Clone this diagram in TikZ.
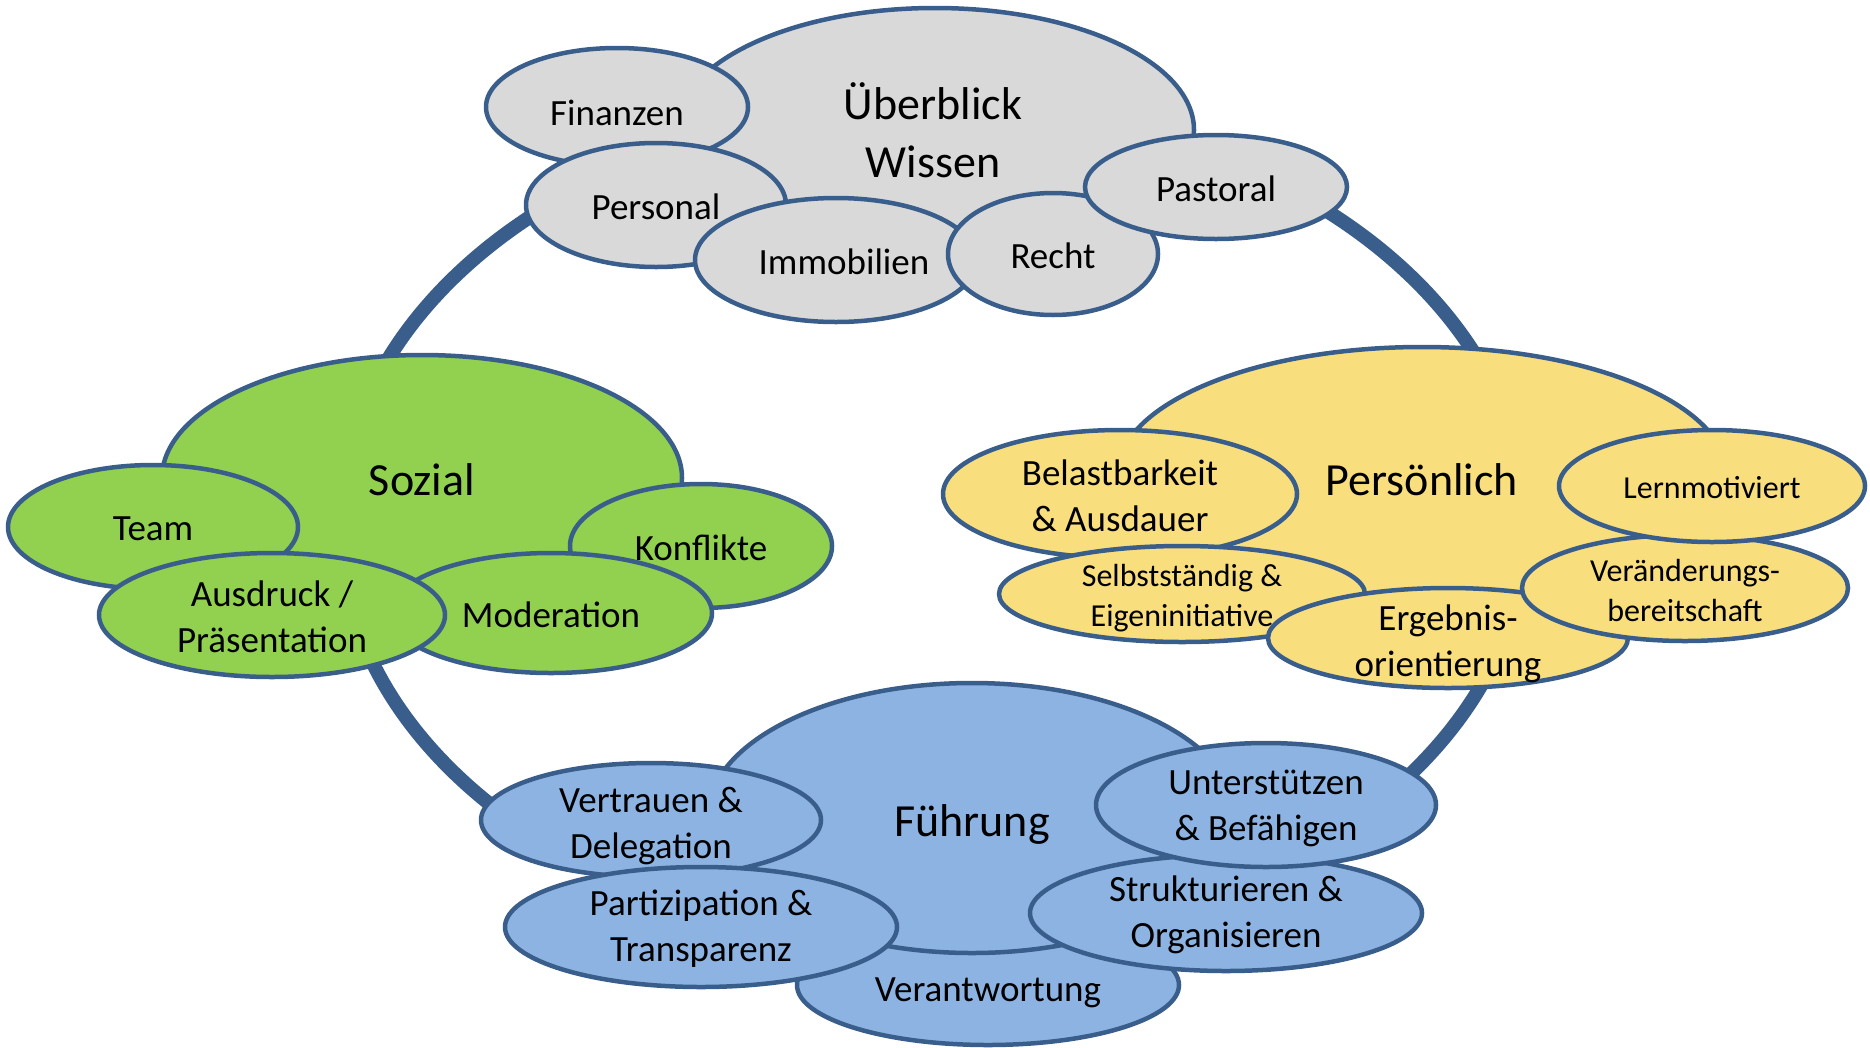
\documentclass[tikz,border=0pt]{standalone}
\usepackage{fontspec}
\setmainfont{Carlito}
\usepackage{tikz}
\usetikzlibrary{shapes.geometric}
\definecolor{rimblue}{HTML}{3A5E8C}
\definecolor{wissengray}{HTML}{D9D9D9}
\definecolor{sozialgreen}{HTML}{92D050}
\definecolor{persgelb}{HTML}{F9DE7E}
\definecolor{fuehrblau}{HTML}{8DB3E2}
\newcommand{\bigtxt}{\fontsize{46}{58}\selectfont}
\newcommand{\midtxt}{\fontsize{37}{46}\selectfont}
\newcommand{\smalltxt}{\fontsize{32}{40}\selectfont}

\begin{document}
\begin{tikzpicture}[x=1pt,y=-1pt,
    ball/.style 2 args={ellipse,draw=rimblue,line width=4.5pt,inner sep=0pt,
        minimum width={2*#1pt},minimum height={2*#2pt}},
    txt/.style={align=center,inner sep=0pt,font=\midtxt,yshift=-2pt},
    head/.style={txt,font=\bigtxt},
    small/.style={txt,font=\smalltxt}]
    \useasboundingbox (0,0) rectangle (1870,1047);
    % ring behind everything
    \draw[rimblue,line width=14pt] (933,525) ellipse [x radius=593,y radius=420];

    % Ueberblick Wissen
    \node[ball={259}{122},fill=wissengray] (ueberblick) at (935,130) {};
    \node[ball={131}{59},fill=wissengray] (finanzen) at (617,107) {};
    \node[ball={130}{62},fill=wissengray] (personal) at (656,205) {};
    \node[ball={141}{62},fill=wissengray] (immobilien) at (836,260) {};
    \node[ball={105}{61},fill=wissengray] (recht) at (1053,254) {};
    \node[ball={131}{52},fill=wissengray] (pastoral) at (1216,187) {};

    % Sozial
    \node[ball={260}{123},fill=sozialgreen] (sozial) at (422,478) {};
    \node[ball={145}{62},fill=sozialgreen] (team) at (153,527) {};
    \node[ball={131}{62},fill=sozialgreen] (konflikte) at (701,546) {};
    \node[ball={161}{60},fill=sozialgreen] (moderation) at (551,613) {};
    \node[ball={173}{62},fill=sozialgreen] (ausdruck) at (272,615) {};

    % Persoenlich
    \node[ball={305}{128},fill=persgelb] (persoenlich) at (1422,475) {};
    \node[ball={177}{64},fill=persgelb] (belastbar) at (1120,494) {};
    \node[ball={183}{48},fill=persgelb] (selbst) at (1182,594) {};
    \node[ball={180}{50},fill=persgelb] (ergebnis) at (1448,638) {};
    \node[ball={163}{53},fill=persgelb] (wandel) at (1685,588) {};
    \node[ball={153}{56},fill=persgelb] (lernen) at (1712,486) {};

    % Fuehrung
    \node[ball={191}{60},fill=fuehrblau] (verantwortung) at (988,985) {};
    \node[ball={265}{135},fill=fuehrblau] (fuehrung) at (972,818) {};
    \node[ball={170}{57},fill=fuehrblau] (vertrauen) at (651,820) {};
    \node[ball={196}{60},fill=fuehrblau] (partizipation) at (701,927) {};
    \node[ball={196}{58},fill=fuehrblau] (struktur) at (1226,913) {};
    \node[ball={170}{62},fill=fuehrblau] (unterstuetzen) at (1266,805) {};

    % labels
    \node[head,xshift=-2pt,yshift=2pt] (t-ueberblick) at (ueberblick) {Überblick\\Wissen};
    \node[txt,yshift=-4pt] (t-finanzen) at (finanzen) {Finanzen};
    \node[txt] (t-personal) at (personal) {Personal};
    \node[txt,xshift=8pt] (t-immobilien) at (immobilien) {Immobilien};
    \node[txt] (t-recht) at (recht) {Recht};
    \node[txt] (t-pastoral) at (pastoral) {Pastoral};
    \node[head] (t-sozial) at (sozial) {Sozial};
    \node[txt] (t-team) at (team) {Team};
    \node[txt] (t-konflikte) at (konflikte) {Konflikte};
    \node[txt] (t-moderation) at (moderation) {Moderation};
    \node[txt] (t-ausdruck) at (ausdruck) {Ausdruck /\\Präsentation};
    \node[head,yshift=-3pt] (t-persoenlich) at (persoenlich) {Persönlich};
    \node[txt] (t-belastbar) at (belastbar) {Belastbarkeit\\\& Ausdauer};
    \node[small,yshift=-2pt] (t-selbst) at (selbst) {Selbstständig \&\\Eigeninitiative};
    \node[txt,yshift=-4pt] (t-ergebnis) at (ergebnis) {Ergebnis-\\orientierung};
    \node[small] (t-wandel) at (wandel) {Veränderungs-\\bereitschaft};
    \node[small] (t-lernen) at (lernen) {Lernmotiviert};
    \node[head,yshift=-4pt] (t-fuehrung) at (fuehrung) {Führung};
    \node[txt,yshift=-6pt] (t-verantwortung) at (verantwortung) {Verantwortung};
    \node[txt,yshift=-4pt] (t-vertrauen) at (vertrauen) {Vertrauen \&\\Delegation};
    \node[txt] (t-partizipation) at (partizipation) {Partizipation \&\\Transparenz};
    \node[txt] (t-struktur) at (struktur) {Strukturieren \&\\Organisieren};
    \node[txt,yshift=-1pt] (t-unterstuetzen) at (unterstuetzen) {Unterstützen\\\& Befähigen};
\end{tikzpicture}
\end{document}
